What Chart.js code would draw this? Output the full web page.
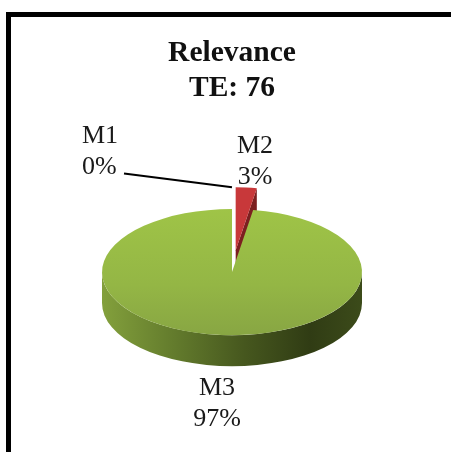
<!DOCTYPE html>
<html>
<head>
<meta charset="utf-8">
<title>Relevance TE: 76</title>
<script src="https://cdn.jsdelivr.net/npm/chart.js@4"></script>
<style>
    html, body { margin: 0; padding: 0; background: #ffffff; }
    .frame { position: absolute; left: 6px; top: 12px; right: 0; bottom: 0; border-left: 5px solid #000; border-top: 5px solid #000; }
    canvas { position: absolute; left: 0; top: 0; }
</style>
</head>
<body>
<div class="frame"></div>
<canvas id="pie" width="451" height="452"></canvas>
<script>
// Chart data
var categories = ['M1', 'M2', 'M3'];
var shares = [0, 2.6, 97.4];
var titleLines = ['Relevance', 'TE: 76'];

// Pie tilt, wall height and how far M1 and M2 are pulled out of the pie
var TILT = 0.485;
var DEPTH = 31;
var PULL = 45;
var SERIF = '"Liberation Serif", "Times New Roman", serif';

// Where each data label sits: x, first baseline, text alignment
var labelSpots = {
    M1: { x: 82, y: 143, align: 'left' },
    M2: { x: 255, y: 153, align: 'center' },
    M3: { x: 217, y: 395, align: 'center' }
};

// Screen y of a point given in the flat pie, after the tilt
function tiltY(arcs, y) {
    return arcs[2].y + (y - arcs[2].y) * TILT;
}

// Draws the green and red walls under the flat pie
function drawWalls(ctx, arcs) {
    var main = arcs[2];
    var rx = main.outerRadius;
    var ry = rx * TILT;
    var wall = ctx.createLinearGradient(main.x - rx, 0, main.x + rx, 0);
    wall.addColorStop(0, '#83a03c');
    wall.addColorStop(0.25, '#667f2e');
    wall.addColorStop(0.55, '#46571e');
    wall.addColorStop(0.8, '#303c14');
    wall.addColorStop(1, '#3c4b1a');

    ctx.fillStyle = wall;
    ctx.beginPath();
    ctx.ellipse(main.x, main.y, rx, ry, 0, 0, Math.PI);
    ctx.ellipse(main.x, main.y + DEPTH, rx, ry, 0, Math.PI, 0, true);
    ctx.closePath();
    ctx.fill();

    // Cut face of the pulled out slice, shows in the gap of the green one
    var red = arcs[1];
    var ay = tiltY(arcs, red.y);
    var rimX = red.x + Math.cos(red.endAngle) * rx;
    var rimY = ay + Math.sin(red.endAngle) * ry;
    ctx.fillStyle = '#7c1f20';
    ctx.beginPath();
    ctx.moveTo(red.x, ay);
    ctx.lineTo(rimX, rimY);
    ctx.lineTo(rimX, rimY + DEPTH);
    ctx.lineTo(red.x, ay + DEPTH);
    ctx.closePath();
    ctx.fill();
}

// Squashes the flat pie into an ellipse, with the walls underneath
var tiltPlugin = {
    id: 'tilt',
    afterDatasetUpdate: function(chart) {
        // Pull M1 and M2 outwards along their middle angle
        chart.getDatasetMeta(0).data.slice(0, 2).forEach(function(arc) {
            var mid = (arc.startAngle + arc.endAngle) / 2;
            arc.x += Math.cos(mid) * PULL;
            arc.y += Math.sin(mid) * PULL;
        });
    },
    beforeDatasetsDraw: function(chart) {
        var ctx = chart.ctx;
        var arcs = chart.getDatasetMeta(0).data;
        drawWalls(ctx, arcs);
        ctx.save();
        ctx.translate(0, arcs[2].y);
        ctx.scale(1, TILT);
        ctx.translate(0, -arcs[2].y);
    },
    afterDatasetsDraw: function(chart) {
        chart.ctx.restore();
    }
};

// Category and percent labels, plus the leader line of M1
var labelPlugin = {
    id: 'sliceLabels',
    afterDraw: function(chart) {
        var ctx = chart.ctx;
        var arcs = chart.getDatasetMeta(0).data;
        ctx.save();
        ctx.fillStyle = '#1a1a1a';
        ctx.font = '26px ' + SERIF;
        categories.forEach(function(name, i) {
            var spot = labelSpots[name];
            ctx.textAlign = spot.align;
            ctx.fillText(name, spot.x, spot.y);
            ctx.fillText(Math.round(shares[i]) + '%', spot.x, spot.y + 30.5);
        });

        ctx.strokeStyle = '#000000';
        ctx.lineWidth = 2;
        ctx.beginPath();
        ctx.moveTo(124, 173.5);
        ctx.lineTo(arcs[0].x, tiltY(arcs, arcs[0].y - arcs[0].outerRadius));
        ctx.stroke();
        ctx.restore();
    }
};

// Slice colours, the green face gets a soft top to bottom gradient
function sliceColor(context) {
    var area = context.chart.chartArea;
    if (context.dataIndex === 1) {
        return '#c8383a';
    }
    if (context.dataIndex === 0 || !area) {
        return '#ffffff';
    }
    var fill = context.chart.ctx.createLinearGradient(0, area.top, 0, area.bottom);
    fill.addColorStop(0, '#9fc447');
    fill.addColorStop(0.6, '#94b645');
    fill.addColorStop(1, '#88a643');
    return fill;
}

new Chart(document.getElementById('pie'), {
    type: 'pie',
    data: {
        labels: categories,
        datasets: [{
            data: shares,
            backgroundColor: sliceColor,
            borderWidth: 0,
            radius: 130
        }]
    },
    options: {
        responsive: false,
        animation: false,
        events: [],
        layout: {
            padding: { left: 102, right: 89, top: 0, bottom: 50 }
        },
        plugins: {
            legend: { display: false },
            tooltip: { enabled: false },
            title: {
                display: true,
                text: titleLines,
                color: '#111111',
                font: { family: SERIF, size: 29.5, weight: 'bold', lineHeight: 1.19 },
                padding: { top: 36, bottom: 36 }
            }
        }
    },
    plugins: [tiltPlugin, labelPlugin]
});
</script>
</body>
</html>
